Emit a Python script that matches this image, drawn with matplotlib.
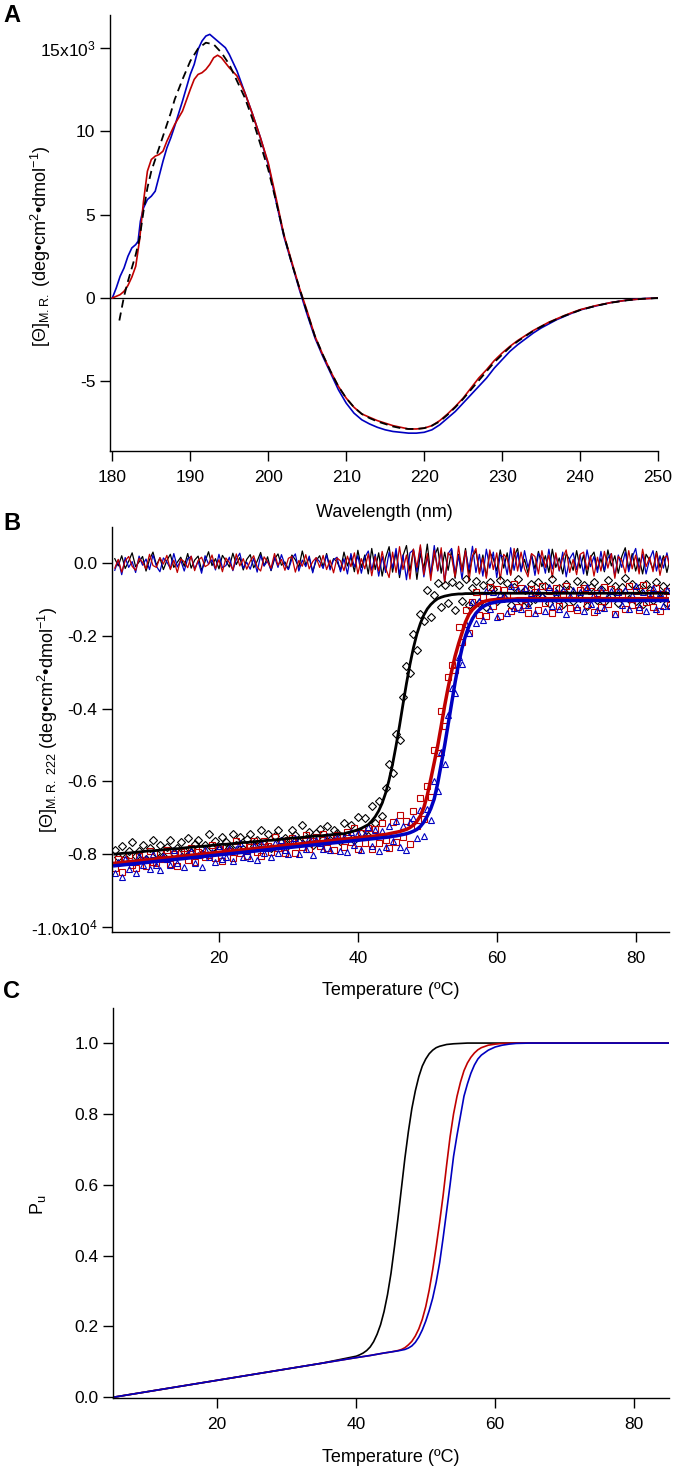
import matplotlib.pyplot as plt
import numpy as np

plt.rcParams['font.family'] = ['Liberation Sans', 'DejaVu Sans']
plt.rcParams['mathtext.fontset'] = 'custom'
plt.rcParams['mathtext.rm'] = 'Liberation Sans'
plt.rcParams['mathtext.it'] = 'Liberation Sans:italic'
plt.rcParams['axes.unicode_minus'] = False

RED = '#c00000'
BLUE = '#0000c0'

# ---- Panel A: CD spectra (units of 10^3) ----
wl_blue = ([180, 180.5, 181, 181.5, 182, 182.5, 183, 183.3, 183.6, 184, 184.5, 185,
            185.5, 186, 186.5, 187, 187.5, 188, 189, 190, 190.5, 191, 191.5, 192,
            192.5, 193, 193.5, 194, 194.5, 195] + list(range(196, 241)) +
           [242, 244, 246, 248, 250])
cd_blue = [0.0, 0.6, 1.3, 1.8, 2.5, 3.0, 3.2, 3.4, 4.6, 5.4,
           5.9, 6.1, 6.4, 7.3, 8.2, 9.0, 9.6, 10.3, 11.8, 13.4,
           14.0, 14.9, 15.4, 15.7, 15.8, 15.6, 15.4, 15.2, 15.0, 14.6,
           13.6, 12.3, 11.0, 9.6, 8.0, 5.8, 3.7, 2.1, 0.5,
           -1.0, -2.4, -3.5, -4.5, -5.5, -6.3, -6.9, -7.3, -7.55, -7.75,
           -7.9, -8.0, -8.05, -8.1, -8.1, -8.05, -7.9, -7.6, -7.2, -6.8,
           -6.3, -5.8, -5.3, -4.8, -4.2, -3.7, -3.2, -2.8, -2.45, -2.1,
           -1.8, -1.55, -1.3, -1.1, -0.9, -0.72,
           -0.48, -0.27, -0.13, -0.04, 0.0]

wl_red = ([180, 180.5, 181, 181.5, 182, 182.5, 183, 183.5, 184, 184.5, 185, 185.5,
           186, 186.5, 187, 187.5, 188, 189, 190, 190.5, 191, 191.5, 192, 192.5,
           193, 193.5, 194, 194.5, 195] + list(range(196, 241)) +
          [242, 244, 246, 248, 250])
cd_red = [0.0, 0.1, 0.2, 0.4, 0.75, 1.25, 1.9, 3.5,
          5.8, 7.6, 8.3, 8.5, 8.6, 8.8, 9.4, 9.9, 10.4,
          11.2, 12.5,
          13.1, 13.4, 13.5, 13.7, 14.0, 14.4, 14.55, 14.4, 14.1, 13.8,
          13.3, 12.3, 11.0, 9.6, 8.1, 6.0, 3.8, 2.2, 0.6, -0.8,
          -2.3, -3.4, -4.4, -5.3, -6.0, -6.55, -6.95, -7.15, -7.35, -7.5,
          -7.65, -7.75, -7.85, -7.85, -7.8, -7.65, -7.35, -6.95, -6.5, -6.0,
          -5.4, -4.8, -4.3, -3.75, -3.3, -2.9, -2.55, -2.25, -1.95, -1.7,
          -1.45, -1.25, -1.05, -0.87, -0.7,
          -0.46, -0.27, -0.13, -0.05, 0.0]

wl_fit = ([180.9, 181.5, 182, 182.5, 183, 183.5, 184, 184.5, 185, 185.5, 186, 186.5,
           187, 187.5, 188, 189, 190, 191, 192, 193, 194, 195] + list(range(196, 241)) +
          [242, 244, 246, 248, 250])
cd_fit = [-1.35, 0.1, 1.0, 1.8, 2.6, 3.6, 5.2, 6.6, 7.6, 8.3, 9.0, 9.7,
          10.4, 11.1, 11.9, 13.1, 14.2, 14.95, 15.3, 15.2, 14.7, 14.0,
          13.0, 12.0, 10.7, 9.2, 7.7, 5.8, 3.8, 2.1, 0.6, -0.9,
          -2.3, -3.4, -4.4, -5.3, -6.0, -6.55, -6.95, -7.2, -7.4, -7.55,
          -7.7, -7.8, -7.85, -7.85, -7.8, -7.65, -7.4, -7.0, -6.55, -6.05,
          -5.5, -4.95, -4.4, -3.85, -3.4, -2.95, -2.6, -2.28, -1.98, -1.72,
          -1.48, -1.27, -1.07, -0.9, -0.73,
          -0.47, -0.28, -0.14, -0.05, 0.0]

# ---- Panel B: thermal melts, 222 nm (units of 10^-3 x 10^4) ----
temps = np.arange(5, 85.5, 0.5)

fit_black = [-800, -799, -798, -797, -797, -796, -795, -794, -793, -792,
             -791, -791, -790, -789, -788, -787, -786, -785, -785, -784,
             -783, -782, -781, -780, -779, -779, -778, -777, -776, -775,
             -774, -773, -773, -772, -771, -770, -769, -768, -768, -767,
             -766, -765, -764, -763, -762, -762, -761, -760, -759, -758,
             -757, -756, -756, -755, -754, -753, -752, -751, -750, -750,
             -749, -748, -747, -746, -745, -744, -744, -741, -739, -736,
             -733, -729, -724, -719, -709, -697, -681, -660, -632, -596,
             -553, -502, -447, -388, -331, -279, -233, -195, -166, -143,
             -126, -114, -105, -98, -94, -91, -89, -87, -86, -85,
             -85, -84, -84, -84, -83, -83, -83, -83, -83, -83,
             -83, -83, -83, -83, -83, -83, -83, -83, -83, -83,
             -83, -83, -83, -83, -83, -83, -83, -83, -83, -83,
             -83, -83, -83, -83, -83, -83, -83, -83, -83, -83,
             -83, -83, -83, -83, -83, -83, -83, -83, -83, -83,
             -83, -83, -83, -83, -83, -83, -83, -83, -83, -83, -83]

fit_red = [-825, -824, -823, -822, -821, -820, -819, -818, -817, -816,
           -815, -814, -813, -812, -811, -810, -809, -808, -807, -806,
           -805, -804, -803, -802, -801, -800, -799, -798, -797, -796,
           -795, -794, -793, -792, -791, -790, -789, -788, -787, -786,
           -785, -784, -783, -782, -781, -780, -779, -778, -777, -776,
           -775, -774, -773, -772, -771, -770, -769, -768, -767, -766,
           -765, -764, -763, -762, -761, -760, -759, -758, -757, -756,
           -755, -754, -753, -752, -751, -750, -748, -747, -746, -744,
           -742, -740, -738, -735, -732, -727, -720, -710, -695, -672,
           -638, -594, -548, -502, -448, -392, -342, -297, -256, -222,
           -192, -162, -141, -128, -119, -112, -107, -104, -102, -101,
           -100, -100, -99, -99, -99, -99, -98, -98, -98, -98,
           -98, -98, -98, -98, -98, -98, -98, -98, -98, -98,
           -98, -98, -98, -98, -98, -98, -98, -98, -98, -98,
           -98, -98, -98, -98, -98, -98, -98, -98, -98, -98,
           -98, -98, -98, -98, -98, -98, -98, -98, -98, -98, -98]

fit_blue = [-832, -831, -830, -829, -828, -827, -826, -825, -824, -823,
            -822, -821, -820, -819, -818, -817, -816, -815, -814, -813,
            -812, -811, -810, -809, -808, -807, -806, -805, -804, -803,
            -802, -801, -800, -799, -798, -797, -796, -795, -794, -793,
            -792, -791, -790, -789, -788, -787, -786, -785, -784, -783,
            -782, -781, -780, -779, -778, -777, -776, -775, -774, -773,
            -772, -771, -770, -769, -768, -767, -766, -765, -764, -763,
            -762, -761, -760, -759, -758, -757, -756, -755, -754, -753,
            -751, -750, -748, -746, -744, -741, -737, -732, -724, -712,
            -695, -675, -648, -605, -553, -501, -443, -384, -328, -277,
            -234, -200, -173, -153, -138, -128, -120, -115, -111, -109,
            -107, -106, -105, -104, -104, -103, -103, -103, -103, -103,
            -103, -103, -103, -103, -103, -103, -103, -103, -103, -103,
            -103, -103, -103, -103, -103, -103, -103, -103, -103, -103,
            -103, -103, -103, -103, -103, -103, -103, -103, -103, -103,
            -103, -103, -103, -103, -103, -103, -103, -103, -103, -103, -103]

res_black = [12, -8, 20, -15, 5, 28, -10, 3, 18, -22, 9, 30, -6, 14, -18, 7, 24, -12, 2, 16,
             -9, 26, -14, 8, 19, -20, 4, 31, -7, 12, -16, 21, 6, -11, 27, -4, 15, -19, 10, 23,
             -13, 5, 29, -8, 17, -21, 11, 25, -6, 3, -17, 22, 9, -12, 33, -5, 14, -23, 7, 20,
             -10, 26, -15, 12, 4, -19, 30, -8, 18, -24, 35, -12, 22, -30, 40, -18, 28, -36, 15, 45,
             -25, 32, -40, 20, 48, -22, 38, -45, 26, -15, 52, -34, 18, 42, -28, 30, -20, 36, -42, 24,
             -18, 40, -30, 16, 34, -26, 22, -38, 30, 12, -22, 36, -14, 28, -32, 18, 40, -20, 10, -28,
             24, -16, 32, -10, 20, -26, 38, -12, 14, -30, 26, 8, -20, 34, -14, 22, -34, 16, 30, -18,
             12, -24, 36, -8, 20, -28, 18, 42, -16, 26, -22, 14, -30, 24, 8, -18, 32, -12, 20, -26, 16]

res_red = [-14, 10, -25, 6, 18, -9, -20, 13, 2, -16, 24, -7, -12, 15, -3, 21, -18, 8, -26, 11,
           4, -13, 19, -21, 7, 16, -10, -4, 22, -15, 9, -24, 14, 1, -19, 25, -8, 12, -17, 5,
           20, -11, -22, 17, 3, -14, 26, -6, 10, -20, 13, 18, -25, 7, -9, 23, -16, 4, 15, -12,
           21, -18, 8, -27, 14, 6, -21, 19, -10, 28, -30, 12, -16, 25, -35, 18, -22, 32, -14, -40,
           30, -26, 45, -18, 22, -44, 38, -12, 50, -32, 26, -48, 35, -20, 42, -55, 28, 16, -38, 46,
           -24, 34, -50, 20, 40, -30, 14, -42, 36, -18, 28, -46, 24, 12, -34, 40, -22, 30, -16, -38,
           26, 18, -30, 34, -12, 22, -40, 28, -20, 14, 36, -26, 10, -32, 24, 30, -18, 20, -36, 16,
           -22, 32, -14, 26, -42, 18, 8, -28, 34, -16, 22, -30, 38, -10, 16, -24, 28, -34, 12, 20, -18]

res_blue = [-20, 8, -32, 15, -12, 4, -26, 19, -6, 11, -18, 22, -9, -24, 14, 3, -15, 26, -11, 7,
            -22, 12, 18, -16, 5, -28, 20, -3, 9, -19, 24, -13, -7, 16, -21, 10, 27, -14, 2, -17,
            13, -25, 21, -8, 6, -20, 17, -12, 23, -5, -18, 11, 25, -22, 8, -10, 19, -27, 14, 4,
            -15, 22, -19, 9, 16, -24, 12, -30, 26, -11, 20, -28, 15, 33, -20, 24, -36, 18, -26, 30,
            -14, 40, -32, 22, -46, 28, 36, -24, 44, -38, 18, -30, 48, -22, 34, -52, 26, 40, -28, 20,
            -44, 32, -18, 46, -26, 24, -36, 38, -14, 30, -40, 22, 16, -32, 42, -20, 28, -24, 34, -12,
            20, -34, 26, 14, -28, 38, -16, 24, -22, 30, -38, 12, 28, -18, 22, -30, 36, -10, 18, -26,
            32, -20, 14, 26, -36, 22, -12, 30, -24, 16, 40, -18, 24, -30, 10, 34, -22, 20, -14, 28, -16]

# ---- Panel C: fraction unfolded ----
tc_black = [5, 20, 35, 40, 40.5, 41, 41.5, 42, 42.5, 43, 43.5, 44, 44.5, 45, 45.5, 46,
            46.5, 47, 47.5, 48, 48.5, 49, 49.5, 50, 50.5, 51, 51.5, 52, 53, 54, 56, 85]
pu_black = [0.0, 0.048, 0.096, 0.116, 0.120, 0.125, 0.132, 0.142, 0.157, 0.178, 0.205,
            0.242, 0.29, 0.35, 0.425, 0.505, 0.59, 0.675, 0.75, 0.815, 0.865, 0.905,
            0.935, 0.955, 0.97, 0.98, 0.987, 0.991, 0.996, 0.998, 1.0, 1.0]
tc_red = [5, 20, 35, 40, 42, 44, 45, 46, 46.5, 47, 47.5, 48, 48.5, 49, 49.5, 50, 50.5,
          51, 51.5, 52, 52.5, 53, 53.5, 54, 54.5, 55, 55.5, 56, 56.5, 57, 57.5, 58,
          59, 60, 61, 63, 85]
pu_red = [0.0, 0.048, 0.096, 0.112, 0.118, 0.125, 0.128, 0.132, 0.135, 0.140, 0.148,
          0.158, 0.173, 0.193, 0.22, 0.256, 0.303, 0.36, 0.425, 0.495, 0.57, 0.655,
          0.735, 0.80, 0.85, 0.89, 0.922, 0.944, 0.96, 0.972, 0.981, 0.987, 0.994,
          0.997, 0.999, 1.0, 1.0]
tc_blue = [5, 20, 35, 40, 42, 44, 46, 47, 47.5, 48, 48.5, 49, 49.5, 50, 50.5, 51, 51.5,
           52, 52.5, 53, 53.5, 54, 54.5, 55, 55.5, 56, 56.5, 57, 57.5, 58, 59, 60, 61,
           62, 63, 65, 85]
pu_blue = [0.0, 0.048, 0.096, 0.112, 0.118, 0.125, 0.131, 0.135, 0.139, 0.145, 0.155,
           0.17, 0.19, 0.215, 0.245, 0.28, 0.325, 0.38, 0.45, 0.525, 0.60, 0.68, 0.74,
           0.795, 0.85, 0.885, 0.915, 0.938, 0.955, 0.966, 0.98, 0.989, 0.994, 0.997,
           0.999, 1.0, 1.0]

LABEL_FS = 13
TICK_FS = 12.5


def style_axes(ax):
    for side in ['top', 'right']:
        ax.spines[side].set_visible(False)
    for side in ['left', 'bottom']:
        ax.spines[side].set_linewidth(1.0)
    ax.tick_params(axis='both', direction='out', length=7, width=1.0, labelsize=TICK_FS)
    ax.tick_params(axis='y', pad=3.5)
    ax.tick_params(axis='x', pad=7)


fig = plt.figure(figsize=(6.74, 14.69), dpi=100)
axA = fig.add_axes([110 / 674, 1 - 451 / 1469, 548 / 674, 436 / 1469])
axB = fig.add_axes([112 / 674, 1 - 932 / 1469, 557 / 674, 405 / 1469])
axC = fig.add_axes([113 / 674, 1 - 1398 / 1469, 556 / 674, 390 / 1469])

# Panel A
axA.axhline(0, color='black', lw=0.9)
axA.plot(wl_blue, cd_blue, color=BLUE, lw=1.2)
axA.plot(wl_red, cd_red, color=RED, lw=1.2)
axA.plot(wl_fit, cd_fit, color='black', lw=1.3, dashes=(4.5, 2.8))
axA.set_xlim(179.7, 250)
axA.set_ylim(-9.17, 16.96)
axA.set_xticks(range(180, 251, 10))
axA.set_yticks([-5, 0, 5, 10, 15])
axA.set_yticklabels(['-5', '0', '5', '10', '15x10$^{3}$'])
axA.set_xlabel('Wavelength (nm)', fontsize=LABEL_FS)
axA.set_ylabel('[Θ]$_{\\mathrm{M.R.}}$ (deg•cm$^{2}$•dmol$^{-1}$)', fontsize=LABEL_FS)
axA.xaxis.set_label_coords(0.5, -0.122)
axA.yaxis.set_label_coords(-0.104, 0.47)
style_axes(axA)

# Panel B
fb = np.array(fit_black) / 1000
fr = np.array(fit_red) / 1000
fbl = np.array(fit_blue) / 1000
rb = np.array(res_black) / 1000
rr = np.array(res_red) / 1000
rbl = np.array(res_blue) / 1000

axB.plot(temps, rb, color='black', lw=0.9)
axB.plot(temps, rbl, color=BLUE, lw=0.9)
axB.plot(temps, rr, color=RED, lw=0.9)

axB.plot(temps, fb + rb, ls='none', marker='D', ms=4.4, mfc='none', mec='black', mew=0.8)
axB.plot(temps, fr + rr, ls='none', marker='s', ms=4.0, mfc='none', mec=RED, mew=0.8)
axB.plot(temps, fbl + rbl, ls='none', marker='^', ms=4.2, mfc='none', mec=BLUE, mew=0.8)

axB.plot(temps, fb, color='black', lw=2.0)
axB.plot(temps, fr, color=RED, lw=2.5)
axB.plot(temps, fbl, color=BLUE, lw=2.5)

axB.set_xlim(4.6, 84.8)
axB.set_ylim(-1.014, 0.099)
axB.set_xticks([20, 40, 60, 80])
axB.set_yticks([-1.0, -0.8, -0.6, -0.4, -0.2, 0.0])
axB.set_yticklabels(['-1.0x10$^{4}$', '-0.8', '-0.6', '-0.4', '-0.2', '0.0'])
axB.set_xlabel('Temperature (ºC)', fontsize=LABEL_FS)
axB.set_ylabel('[Θ]$_{\\mathrm{M.R.\\ 222}}$ (deg•cm$^{2}$•dmol$^{-1}$)', fontsize=LABEL_FS)
axB.xaxis.set_label_coords(0.5, -0.123)
axB.yaxis.set_label_coords(-0.093, 0.523)
style_axes(axB)

# Panel C
axC.plot(tc_black, pu_black, color='black', lw=1.2)
axC.plot(tc_red, pu_red, color=RED, lw=1.2)
axC.plot(tc_blue, pu_blue, color=BLUE, lw=1.2)
axC.set_xlim(5, 85)
axC.set_ylim(-0.002, 1.099)
axC.set_xticks([20, 40, 60, 80])
axC.set_yticks([0.0, 0.2, 0.4, 0.6, 0.8, 1.0])
axC.set_yticklabels(['0.0', '0.2', '0.4', '0.6', '0.8', '1.0'])
axC.set_xlabel('Temperature (ºC)', fontsize=LABEL_FS)
axC.set_ylabel('P$_{\\mathrm{u}}$', fontsize=LABEL_FS)
axC.xaxis.set_label_coords(0.5, -0.131)
axC.yaxis.set_label_coords(-0.117, 0.495)
style_axes(axC)

for lab, ypix in [('A', 16), ('B', 523), ('C', 991)]:
    fig.text(3 / 674, 1 - ypix / 1469, lab, fontsize=17, fontweight='bold', va='center', ha='left')

fig.savefig('out.png', dpi=100)
